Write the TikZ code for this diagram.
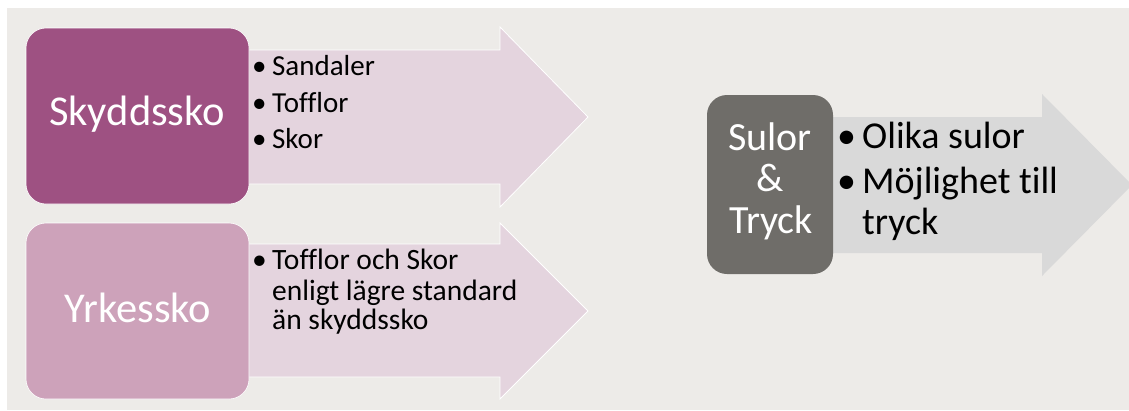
\documentclass[tikz,border=0pt]{standalone}
\usepackage{fontspec}
\setmainfont{Carlito}[Ligatures={NoCommon}]
\definecolor{bgc}{HTML}{EDEBE8}
\definecolor{boxA}{HTML}{9E5182}
\definecolor{boxB}{HTML}{CDA2BA}
\definecolor{arrP}{HTML}{E4D4DE}
\definecolor{boxG}{HTML}{6F6D69}
\definecolor{arrG}{HTML}{D9D9D9}
\tikzset{
  catbox/.style={rounded corners=20pt, draw=white, line width=0.6pt, inner sep=0pt, text=white, align=center},
  bigtxt/.style={font=\fontsize{40}{42}\selectfont},
  hugetxt/.style={font=\fontsize{42.5}{44}\selectfont},
  arrowshape/.style={draw=white, line width=0.8pt},
  item/.style={anchor=base west, inner sep=0pt, font=\fontsize{29}{31}\selectfont},
  itemL/.style={anchor=base west, inner sep=0pt, font=\fontsize{29.5}{31}\selectfont},
  itemR/.style={anchor=base west, inner sep=0pt, font=\fontsize{38}{41}\selectfont},
}
\begin{document}
\begin{tikzpicture}[x=1pt,y=-1pt]
\useasboundingbox (0,0) rectangle (1129,410);
\fill[bgc] (7,8) rectangle (1129,410);
% arrows
\filldraw[arrowshape, fill=arrP] (240,50) -- (500,50) -- (500,27) -- (588,117) -- (500,207) -- (500,184) -- (240,184) -- cycle;
\filldraw[arrowshape, fill=arrP] (240,244) -- (500,244) -- (500,223) -- (588,311) -- (500,399) -- (500,377) -- (240,377) -- cycle;
\fill[arrG] (825,117) -- (1042,117) -- (1042,94) -- (1132,185) -- (1042,276) -- (1042,253) -- (825,253) -- cycle;
% boxes
\node[catbox, fill=boxA, minimum width=223pt, minimum height=176pt] (sky) at (137.5,116) {};
\node[catbox, fill=boxB, minimum width=223pt, minimum height=176pt] (yrk) at (137.5,311) {};
\node[catbox, fill=boxG, draw=none, minimum width=126pt, minimum height=179pt] (sul) at (770,184.5) {};
% box labels
\node[hugetxt, text=white, anchor=base, inner sep=0pt] (skyT) at (137,125) {Skyddssko};
\node[hugetxt, text=white, anchor=base, inner sep=0pt] (yrkT) at (138,322) {Yrkessko};
\node[bigtxt, text=white, anchor=base, inner sep=0pt] (sulT1) at (770,150) {Sulor};
\node[bigtxt, text=white, anchor=base, inner sep=0pt] (sulT2) at (770,191) {\&};
\node[bigtxt, text=white, anchor=base, inner sep=0pt] (sulT3) at (771,233) {Tryck};
% upper list
\node[item] (i1) at (252,75) {\makebox[20pt][l]{•}Sandaler};
\node[item] (i2) at (252,112) {\makebox[20pt][l]{•}Tofflor};
\node[item] (i3) at (252,148) {\makebox[20pt][l]{•}Skor};
% lower list
\node[itemL] (j1) at (252,269) {\makebox[20pt][l]{•}Tofflor och Skor};
\node[itemL] (j2) at (272,300) {enligt lägre standard};
\node[itemL] (j3) at (272,329) {än skyddssko};
% right list
\node[itemR] (k1) at (837,148) {\makebox[25pt][l]{•}Olika sulor};
\node[itemR] (k2) at (837,193) {\makebox[25pt][l]{•}Möjlighet till};
\node[itemR] (k3) at (862,234) {tryck};
\end{tikzpicture}
\end{document}
